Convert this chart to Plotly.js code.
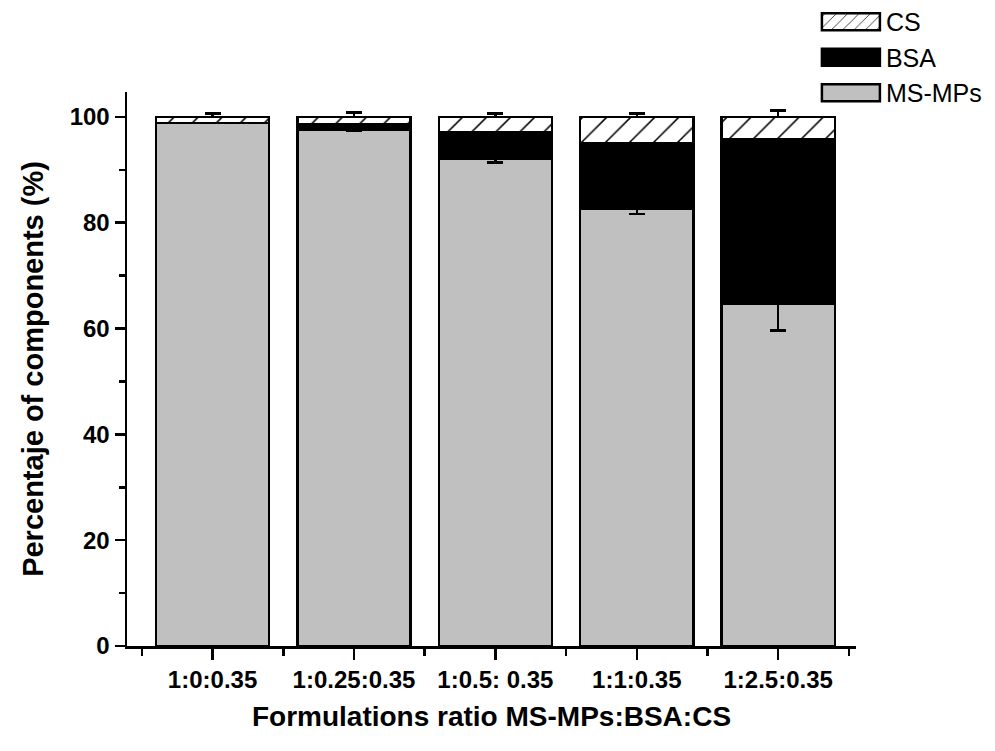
<!DOCTYPE html>
<html><head><meta charset="utf-8">
<script src="https://cdn.plot.ly/plotly-3.0.1.min.js"></script>
<style>body{margin:0;background:#fff}</style>
</head><body><div id="chart" style="width:995px;height:751px"></div>
<script>
const categories = ['1:0:0.35', '1:0.25:0.35', '1:0.5: 0.35', '1:1:0.35', '1:2.5:0.35'];
const msmps = [98.8, 97.6, 92.1, 82.7, 64.7];
const msmpsErr = [0, 0.3, 0.7, 1.1, 5.1];
const bsa = [0, 1.0, 5.0, 12.3, 31.1];
const cs = [1.2, 1.4, 2.9, 5.0, 4.2];
const csErr = [0.6, 0.8, 0.6, 0.6, 1.2];
const seriesNames = ['MS-MPs', 'BSA', 'CS'];

const xpos = categories.map((_, i) => i);
const zeros = categories.map(() => 0);
const minorX = xpos.map(v => v - 0.5).concat([xpos[xpos.length - 1] + 0.5]);

const lineStyle = {color: '#000', width: 2.5};
const errStyle = {type: 'data', symmetric: false, color: '#000', thickness: 2.5, width: 8};

const traces = [
  {type: 'bar', name: seriesNames[0], x: xpos, y: msmps,
   marker: {color: '#c0c0c0', line: lineStyle},
   error_y: Object.assign({array: zeros, arrayminus: msmpsErr}, errStyle)},
  {type: 'bar', name: seriesNames[1], x: xpos, y: bsa,
   marker: {color: '#000000', line: lineStyle}},
  {type: 'bar', name: seriesNames[2], x: xpos, y: cs,
   marker: {color: '#ffffff', line: lineStyle,
            pattern: {shape: '/', fgcolor: '#000', bgcolor: '#fff', size: 17, solidity: 0.09}},
   error_y: Object.assign({array: csErr, arrayminus: zeros}, errStyle)}
];

const tickFont = {family: 'Liberation Sans, Arial, sans-serif', size: 24, color: '#000', weight: 'bold'};

const layout = {
  width: 995, height: 751,
  margin: {l: 127, r: 139, t: 92, b: 105, autoexpand: false},
  paper_bgcolor: '#fff', plot_bgcolor: '#fff',
  barmode: 'stack', bargap: 0.2,
  showlegend: true,
  legend: {x: 0.945, y: 1.168, xanchor: 'left', yanchor: 'top', traceorder: 'reversed',
           font: {family: 'Liberation Sans, Arial, sans-serif', size: 25, color: '#000'},
           bgcolor: 'rgba(0,0,0,0)', itemwidth: 60, itemclick: false},
  xaxis: {
    range: [-0.605, 4.55], tickmode: 'array', tickvals: xpos, ticktext: categories,
    ticks: 'outside', ticklen: 11, tickwidth: 2.5, tickcolor: '#000',
    showline: true, linecolor: '#000', linewidth: 2.5, showgrid: false, zeroline: false,
    tickfont: tickFont, automargin: false,
    minor: {tickmode: 'array', tickvals: minorX, ticks: 'outside', ticklen: 7, tickwidth: 2.5, tickcolor: '#000', showgrid: false},
    title: {text: 'Formulations ratio MS-MPs:BSA:CS', font: {family: 'Liberation Sans, Arial, sans-serif', size: 28, color: '#000', weight: 'bold'}, standoff: 14}
  },
  yaxis: {
    range: [0, 104.7], tickmode: 'linear', tick0: 0, dtick: 20,
    ticks: 'outside', ticklen: 10, tickwidth: 2.5, tickcolor: '#000',
    showline: true, linecolor: '#000', linewidth: 2.5, showgrid: false, zeroline: false,
    tickfont: tickFont, automargin: false,
    minor: {dtick: 10, ticks: 'outside', ticklen: 6, tickwidth: 2.5, tickcolor: '#000', showgrid: false},
    title: {text: 'Percentaje of components (%)', font: {family: 'Liberation Sans, Arial, sans-serif', size: 29, color: '#000', weight: 'bold'}, standoff: 18}
  }
};

Plotly.newPlot('chart', traces, layout, {staticPlot: true, displayModeBar: false}).then(function () {
  document.querySelectorAll('#chart .legend .legendpoints path').forEach(function (p) {
    p.setAttribute('d', 'M-29,-8.5H29V8.5H-29Z');
  });
});
</script>
</body></html>
